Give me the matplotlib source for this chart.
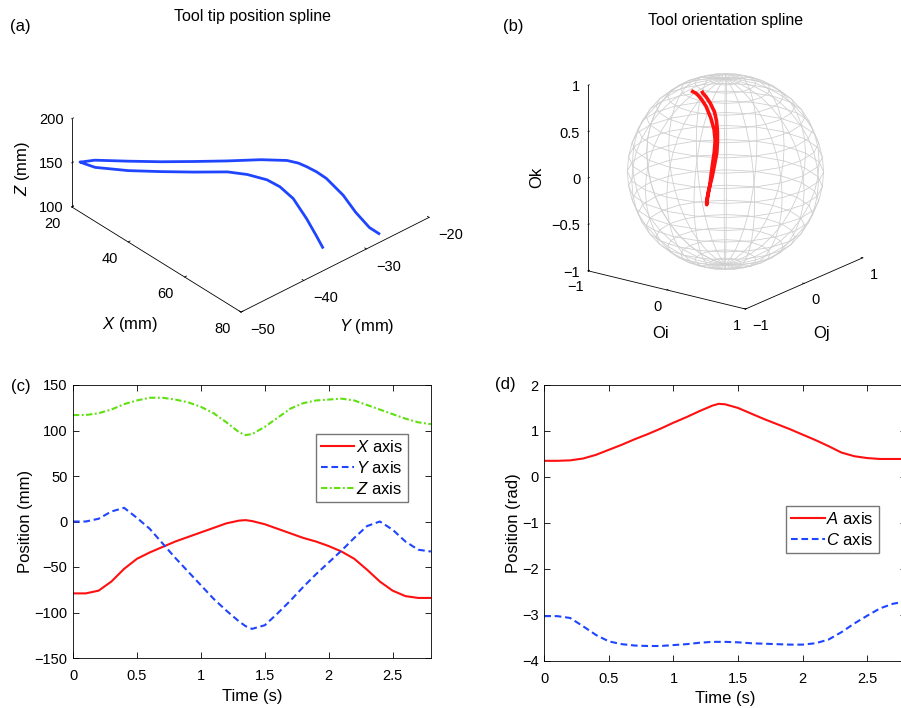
import numpy as np
import matplotlib
matplotlib.use("Agg")
import matplotlib.pyplot as plt

plt.rcParams['font.family'] = ['Liberation Sans', 'DejaVu Sans']
plt.rcParams['mathtext.fontset'] = 'custom'
plt.rcParams['mathtext.it'] = 'Liberation Sans:italic'
plt.rcParams['mathtext.rm'] = 'Liberation Sans'

# time samples (s)
t = [0.0, 0.1, 0.2, 0.3, 0.4, 0.5, 0.6, 0.7, 0.8, 0.9, 1.0, 1.1, 1.2, 1.3, 1.35,
     1.4, 1.5, 1.6, 1.7, 1.8, 1.9, 2.0, 2.1, 2.2, 2.3, 2.4, 2.5, 2.6, 2.7, 2.8]

# machine linear axes (mm)
x_pos = [-79, -79, -76, -66, -52, -41, -34, -28, -22, -17, -12, -7, -2, 1, 1.5,
         0.5, -3, -8, -13, -18, -22, -27, -33, -41, -53, -66, -76, -82, -84, -84]
y_pos = [0, 0, 3, 11, 15, 4, -8, -24, -40, -55, -70, -85, -98, -110, -115,
         -118, -114, -101, -87, -72, -58, -45, -32, -18, -5, 0, -9, -22, -31, -33]
z_pos = [117, 117, 119, 123, 129, 133, 136, 136, 134, 131, 126, 119, 109, 98, 95,
         96, 104, 114, 124, 130, 133, 134, 135, 133, 128, 123, 118, 113, 109, 107]

# machine rotary axes (rad)
a_rot = [0.35, 0.35, 0.36, 0.40, 0.48, 0.59, 0.70, 0.82, 0.93, 1.05, 1.18, 1.30, 1.43, 1.55, 1.59,
         1.58, 1.50, 1.38, 1.26, 1.15, 1.04, 0.92, 0.80, 0.67, 0.53, 0.45, 0.41, 0.39, 0.39, 0.39]
c_rot = [-3.03, -3.03, -3.07, -3.25, -3.44, -3.58, -3.64, -3.67, -3.68, -3.68, -3.66, -3.64, -3.61,
         -3.59, -3.59, -3.59, -3.60, -3.62, -3.63, -3.64, -3.65, -3.65, -3.62, -3.54, -3.38, -3.19,
         -3.02, -2.86, -2.76, -2.71]

# tool tip in workpiece coordinates (mm)
tip_x = [76.7, 73.1, 67.9, 61.4, 56.7, 53.0, 48.5, 44.8, 39.5, 34.2, 28.9, 23.2, 20.7, 20.5,
         21.5, 22.8, 28.4, 34.1, 39.5, 44.9, 50.1, 54.5, 57.0, 59.0, 61.7, 64.5, 70.2, 75.1, 79.3, 81.3]
tip_y = [-35.5, -34.9, -34.1, -33.3, -33.3, -33.7, -34.8, -36.3, -39.3, -42.1, -45.0, -47.7, -48.4, -48.9,
         -48.8, -47.6, -44.8, -42.1, -39.3, -36.4, -33.4, -31.2, -30.5, -30.1, -29.7, -29.4, -29.3, -29.5,
         -29.2, -28.6]
tip_z = [115, 119, 125, 132, 136, 138, 139, 140, 140, 140, 141, 143, 145, 148,
         150, 150, 150, 151, 152, 153, 154, 154, 153.5, 152, 150, 147, 139, 130, 120, 115]

# tool orientation vector from the rotary axes
a_arr = np.array(a_rot)
c_arr = np.array(c_rot)
o_i = np.sin(a_arr) * np.sin(c_arr)
o_j = np.sin(a_arr) * np.cos(c_arr)
o_k = np.cos(a_arr)

red = '#ff1010'
blue = '#1f45ff'
green = '#5fe010'

W, H = 901, 708
fig = plt.figure(figsize=(W / 100, H / 100), dpi=100)


def rect(left, top, w, h):
    return [left / W, 1 - (top + h) / H, w / W, h / H]


def px_text(x, y, s, **kw):
    return fig.text(x / W, 1 - y / H, s, ha=kw.pop('ha', 'center'), va=kw.pop('va', 'center'), **kw)


def style3d(ax):
    ax.set_proj_type('ortho')
    ax.grid(False)
    ax.patch.set_visible(False)
    for axis in (ax.xaxis, ax.yaxis, ax.zaxis):
        axis.pane.set_visible(False)
        axis.line.set_color('black')
        axis.line.set_linewidth(0.6)
        axis._axinfo['tick']['inward_factor'] = 0.0
        axis._axinfo['tick']['outward_factor'] = 0.12
        axis._axinfo['tick']['linewidth'] = {True: 0.6, False: 0.5}
    ax.zaxis.set_ticks_position('lower')
    ax.tick_params(labelsize=10.5)


def align_ticklabels(ax):
    for lab in ax.get_xticklabels():
        lab.set_ha('right')
    for lab in ax.get_yticklabels():
        lab.set_ha('left')
    for lab in ax.get_zticklabels():
        lab.set_ha('right')
        lab.set_va('center_baseline')


# (a) tool tip position
S1 = 400
ax1 = fig.add_axes(rect(245 - S1 / 2, 173.5 - S1 / 2, S1, S1), projection='3d')
style3d(ax1)
ax1.view_init(elev=34, azim=-42)
ax1.set_box_aspect((1, 1, 0.42), zoom=1.2 * 302 / S1)
ax1.plot(tip_x, tip_y, tip_z, color=blue, lw=2)
ax1.set_xlim(20, 80)
ax1.set_ylim(-50, -20)
ax1.set_zlim(100, 200)
ax1.set_xticks([20, 40, 60, 80])
ax1.set_yticks([-50, -40, -30, -20])
ax1.set_zticks([100, 150, 200])
ax1.xaxis.set_tick_params(pad=0.5)
ax1.yaxis.set_tick_params(pad=0.5)
ax1.zaxis.set_tick_params(pad=-4.7)
align_ticklabels(ax1)

# (b) tool orientation on the unit sphere
S2 = 330
ax2 = fig.add_axes(rect(721 - S2 / 2, 176 - S2 / 2, S2, S2), projection='3d', computed_zorder=False)
style3d(ax2)
ax2.view_init(elev=19, azim=-53.3)
ax2.set_box_aspect((1, 1, 1), zoom=1.0)
lon = np.linspace(-np.pi, np.pi, 21)
lat = np.linspace(-np.pi / 2, np.pi / 2, 21)
sx = np.outer(np.cos(lat), np.cos(lon))
sy = np.outer(np.cos(lat), np.sin(lon))
sz = np.outer(np.sin(lat), np.ones_like(lon))
ax2.plot_wireframe(sx, sy, sz, color='#d0d0d0', lw=0.6, zorder=1)
ax2.plot(o_i, o_j, o_k, color=red, lw=2.6, zorder=5)
ax2.set_xlim(-1, 1)
ax2.set_ylim(-1, 1)
ax2.set_zlim(-1, 1)
ax2.set_xticks([-1, 0, 1])
ax2.set_yticks([-1, 0, 1])
ax2.set_zticks([-1, -0.5, 0, 0.5, 1])
ax2.set_zticklabels(['\u22121', '\u22120.5', '0', '0.5', '1'])
ax2.xaxis.set_tick_params(pad=-3)
ax2.yaxis.set_tick_params(pad=-2.6)
ax2.zaxis.set_tick_params(pad=-4.4)
align_ticklabels(ax2)

# 3D axis titles placed like the original (horizontal, under the axes)
px_text(130, 325, '$X$ (mm)', fontsize=12)
px_text(367, 326, '$Y$ (mm)', fontsize=12)
px_text(22, 169, '$Z$ (mm)', fontsize=12, rotation=90)
px_text(661, 334, 'Oi', fontsize=12)
px_text(822, 333, 'Oj', fontsize=12)
px_text(537, 177, 'Ok', fontsize=12, rotation=90)

# (c) linear axes
ax3 = fig.add_axes(rect(73, 385, 358, 273))
ax3.plot(t, x_pos, color=red, lw=1.5, label='$X$ axis')
ax3.plot(t, y_pos, color=blue, lw=1.5, ls=(0, (3.2, 1.8)), label='$Y$ axis')
ax3.plot(t, z_pos, color=green, lw=1.5, ls=(0, (3.0, 1.2, 0.9, 1.2)), label='$Z$ axis')
ax3.set_xlim(0, 2.8)
ax3.set_ylim(-150, 150)
ax3.set_yticks([-150, -100, -50, 0, 50, 100, 150])
ax3.set_xticks([0, 0.5, 1, 1.5, 2, 2.5])
ax3.set_xticklabels(['0', '0.5', '1', '1.5', '2', '2.5'])
ax3.set_xlabel('Time (s)', fontsize=12, labelpad=4)
ax3.set_ylabel('Position (mm)', fontsize=12, labelpad=1)
ax3.legend(loc='upper right', bbox_to_anchor=(0.935, 0.82), fontsize=12, frameon=True,
           fancybox=False, edgecolor='#555555', handlelength=2.0, handletextpad=0.1,
           labelspacing=0.3, borderpad=0.3, borderaxespad=0)

# (d) rotary axes
ax4 = fig.add_axes(rect(544.3, 385, 361.7, 275.7))
ax4.plot(t, a_rot, color=red, lw=1.5, label='$A$ axis')
ax4.plot(t, c_rot, color=blue, lw=1.5, ls=(0, (3.2, 1.8)), label='$C$ axis')
ax4.set_xlim(0, 2.8)
ax4.set_ylim(-4, 2)
ax4.set_xticks([0, 0.5, 1, 1.5, 2, 2.5])
ax4.set_xticklabels(['0', '0.5', '1', '1.5', '2', '2.5'])
ax4.set_xlabel('Time (s)', fontsize=12, labelpad=4)
ax4.set_ylabel('Position (rad)', fontsize=12, labelpad=1)
ax4.legend(loc='upper right', bbox_to_anchor=(0.925, 0.56), fontsize=12, frameon=True,
           fancybox=False, edgecolor='#555555', handlelength=2.0, handletextpad=0.1,
           labelspacing=0.28, borderpad=0.3, borderaxespad=0)

for ax in (ax3, ax4):
    ax.tick_params(direction='in', top=True, right=True, length=4, width=0.6,
                   labelsize=10.5, pad=8)
    ax.tick_params(axis='y', pad=4)
    for sp in ax.spines.values():
        sp.set_linewidth(0.6)

px_text(10, 26, '(a)', fontsize=12, ha='left')
px_text(503, 26, '(b)', fontsize=12, ha='left')
px_text(11, 386, '(c)', fontsize=12, ha='left')
px_text(495, 385, '(d)', fontsize=12, ha='left')
px_text(252, 16, 'Tool tip position spline', fontsize=11.5)
px_text(726, 20, 'Tool orientation spline', fontsize=11.5)

fig.savefig('out.png', dpi=100)
